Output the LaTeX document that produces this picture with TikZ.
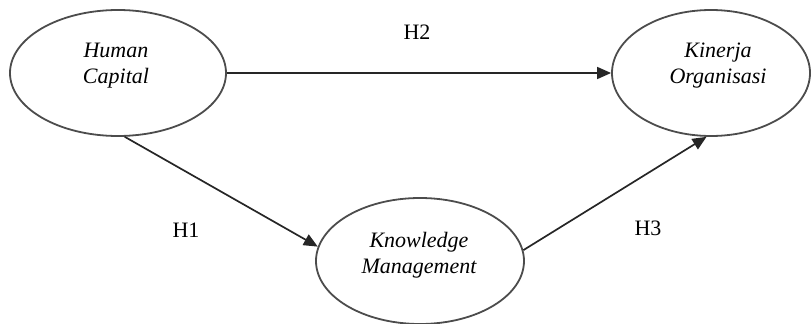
\documentclass[tikz,border=0pt]{standalone}
\usepackage{fontspec}
\setmainfont{Liberation Serif}
\usetikzlibrary{shapes.geometric,arrows.meta}
\begin{document}
\begin{tikzpicture}[x=1pt,y=-1pt,
  varell/.style={ellipse,draw=black!70,line width=1.8pt,inner sep=0pt},
  vartext/.style={align=center,font=\fontsize{22}{26}\selectfont\itshape,inner sep=0pt},
  hyp/.style={font=\fontsize{22}{26}\selectfont,inner sep=0pt},
  arr/.style={draw=black!85,line width=1.7pt,-{Triangle[length=14pt,width=12pt]}}]
\useasboundingbox (0,0) rectangle (812,324);
\clip (0,0) rectangle (812,324);
\node[varell,minimum width=216pt,minimum height=126pt] (hc) at (118,73) {};
\node[varell,minimum width=198pt,minimum height=126pt] (ko) at (711,73) {};
\node[varell,minimum width=208pt,minimum height=126pt] (km) at (420,261) {};
\node[vartext] (hct) at (116,66) {Human\\Capital};
\node[vartext] (kot) at (718,66) {Kinerja\\Organisasi};
\node[vartext] (kmt) at (419,255) {Knowledge\\Management};
\draw[arr] (hc.east) -- (ko.west);
\draw[arr] (hc.-84) -- (km.172);
\draw[arr] (km.6) -- (ko.-94);
\node[hyp] (h2) at (417,32) {H2};
\node[hyp] (h1) at (186,230) {H1};
\node[hyp] (h3) at (648,228) {H3};
\end{tikzpicture}
\end{document}
